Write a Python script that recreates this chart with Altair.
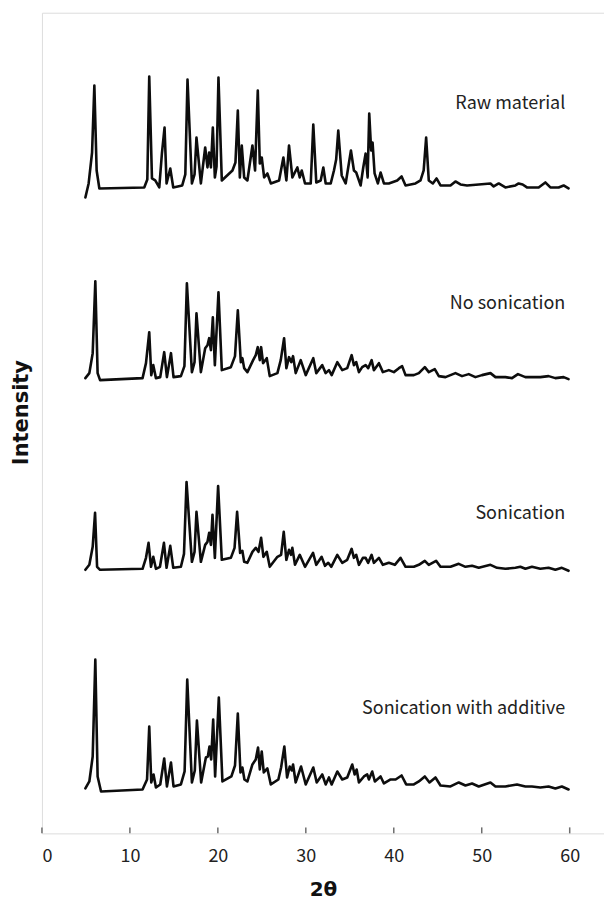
import altair as alt
import pandas as pd

series_names = ["Raw material", "No sonication", "Sonication", "Sonication with additive"]

raw_x = [4.94, 5.31, 5.70, 5.96, 6.22, 6.53, 11.63, 11.98, 12.20, 12.51, 12.88, 13.34, 13.64, 13.94, 14.17, 14.59,
         14.93, 15.95, 16.30, 16.55, 17.05, 17.35, 17.57, 18.07, 18.56, 18.82, 19.01, 19.21, 19.43, 19.66, 19.85,
         20.07, 20.45, 21.66, 22.00, 22.27, 22.50, 22.72, 22.99, 23.36, 23.93, 24.23, 24.54, 24.77, 24.99, 25.26,
         25.63, 26.02, 26.96, 27.45, 27.79, 28.09, 28.47, 29.04, 29.31, 29.54, 29.91, 30.56, 30.85, 31.19, 31.69,
         31.99, 32.26, 32.83, 33.20, 33.45, 33.69, 34.08, 34.53, 35.13, 35.47, 35.73, 36.23, 36.53, 36.80, 37.03,
         37.21, 37.43, 37.59, 37.82, 38.19, 38.50, 38.88, 39.44, 40.39, 40.89, 41.34, 42.47, 43.04, 43.40, 43.68,
         43.98, 44.44, 44.86, 45.31, 46.45, 47.01, 47.58, 48.33, 49.66, 50.99, 51.36, 51.93, 52.69, 53.83, 54.20,
         54.65, 55.14, 56.47, 57.23, 57.80, 58.74, 59.31, 59.87]
raw_y = [637, 651, 682, 749, 664, 646, 647, 655, 758, 656, 654, 647, 681, 707, 651, 666,
         647, 649, 660, 755, 651, 660, 697, 651, 687, 667, 682, 667, 707, 657, 668,
         757, 654, 664, 672, 724, 657, 689, 657, 654, 689, 664, 744, 671, 677, 657,
         661, 651, 654, 677, 654, 689, 657, 667, 657, 664, 651, 651, 710, 652, 654,
         667, 651, 651, 664, 675, 704, 659, 651, 684, 664, 662, 649, 667, 681, 657,
         721, 684, 692, 661, 651, 662, 651, 651, 654, 658, 649, 651, 654, 664, 697,
         654, 651, 656, 649, 649, 653, 650, 649, 650, 651, 648, 651, 647, 649, 651,
         650, 647, 647, 652, 647, 647, 649, 646]

nos_x = [4.94, 5.39, 5.77, 6.07, 6.33, 6.61, 11.44, 11.83, 12.20, 12.43, 12.66, 12.96, 13.45, 13.90, 14.21,
         14.67, 14.96, 15.80, 16.20, 16.48, 17.05, 17.35, 17.57, 18.07, 18.56, 18.82, 19.01, 19.21, 19.43,
         19.66, 20.07, 20.45, 21.48, 21.95, 22.27, 22.61, 22.79, 22.99, 23.36, 24.01, 24.31, 24.54, 24.77,
         24.92, 25.14, 25.56, 25.90, 26.77, 27.15, 27.53, 27.79, 28.09, 28.35, 28.55, 28.85, 29.42, 29.99,
         30.85, 31.19, 31.87, 32.26, 32.63, 32.94, 33.58, 34.14, 34.71, 35.21, 35.47, 35.73, 36.04, 36.41,
         36.80, 37.09, 37.48, 37.74, 38.31, 38.76, 39.44, 40.01, 40.58, 40.95, 41.34, 42.28, 42.85, 43.53,
         43.98, 44.66, 45.12, 45.88, 47.01, 47.76, 48.52, 49.28, 50.03, 50.99, 51.56, 52.69, 53.44, 54.12,
         54.96, 55.71, 56.66, 57.60, 58.37, 59.31, 59.87]
nos_y = [456, 461, 481, 553, 461, 454, 456, 471, 502, 459, 469, 456, 457, 482, 457,
         481, 457, 458, 468, 551, 462, 472, 521, 462, 486, 489, 496, 484, 517,
         469, 542, 464, 467, 478, 524, 472, 476, 466, 462, 474, 479, 487, 474,
         487, 471, 476, 458, 461, 474, 496, 466, 477, 472, 478, 461, 474, 459,
         476, 461, 469, 461, 464, 459, 472, 464, 466, 479, 469, 472, 462, 467,
         469, 466, 474, 464, 471, 462, 464, 462, 466, 468, 459, 459, 461, 467,
         462, 465, 458, 457, 461, 458, 460, 457, 459, 461, 457, 457, 456, 460,
         457, 457, 457, 458, 456, 457, 455]

son_x = [4.94, 5.39, 5.77, 6.04, 6.27, 6.61, 11.44, 11.83, 12.12, 12.40, 12.66, 12.96, 13.42, 13.87, 14.17,
         14.59, 14.93, 15.80, 16.15, 16.44, 17.05, 17.35, 17.57, 18.07, 18.56, 18.82, 19.01, 19.21, 19.39,
         19.66, 20.03, 20.45, 21.48, 21.90, 22.19, 22.53, 22.79, 22.99, 23.36, 23.93, 24.31, 24.62, 24.92,
         25.18, 25.56, 25.90, 26.77, 27.19, 27.49, 27.79, 28.09, 28.32, 28.47, 28.77, 29.31, 29.91, 30.82,
         31.19, 31.80, 32.18, 32.55, 32.89, 33.58, 34.14, 34.71, 35.21, 35.47, 35.73, 36.04, 36.49, 36.80,
         37.09, 37.48, 37.74, 38.31, 38.76, 39.44, 40.12, 40.77, 41.34, 42.28, 42.85, 43.53, 43.98, 44.81,
         45.31, 46.45, 47.39, 48.15, 48.90, 49.66, 50.99, 51.74, 52.69, 53.83, 54.39, 54.96, 55.71, 56.66,
         57.60, 58.37, 59.11, 59.87]
son_y = [264, 269, 287, 321, 267, 264, 265, 276, 291, 267, 277, 265, 267, 291, 266,
         288, 266, 267, 280, 352, 272, 282, 322, 272, 289, 292, 301, 289, 319,
         276, 348, 274, 276, 286, 322, 281, 283, 272, 271, 282, 286, 282, 296,
         277, 282, 267, 277, 279, 302, 274, 284, 279, 286, 269, 279, 267, 281,
         269, 277, 268, 271, 267, 279, 271, 274, 285, 276, 279, 269, 276, 276,
         271, 279, 271, 276, 269, 271, 269, 276, 267, 267, 269, 273, 269, 273,
         267, 267, 270, 267, 268, 266, 269, 266, 265, 266, 267, 265, 267, 265,
         266, 264, 266, 263]

add_x = [4.94, 5.39, 5.77, 6.07, 6.33, 6.72, 11.44, 11.95, 12.20, 12.43, 12.69, 12.96, 13.45, 13.90, 14.21,
         14.67, 14.96, 15.80, 16.22, 16.52, 17.05, 17.38, 17.62, 18.10, 18.64, 18.86, 19.05, 19.24, 19.47,
         19.69, 20.11, 20.52, 21.54, 21.95, 22.27, 22.57, 22.79, 23.02, 23.36, 23.93, 24.31, 24.57, 24.77,
         24.99, 25.22, 25.63, 26.02, 26.88, 27.19, 27.56, 27.87, 28.17, 28.40, 28.55, 28.85, 29.46, 29.99,
         30.85, 31.24, 31.87, 32.26, 32.63, 32.94, 33.58, 34.14, 34.71, 35.28, 35.55, 35.78, 36.04, 36.61,
         36.98, 37.17, 37.55, 37.85, 38.50, 38.88, 39.64, 40.21, 40.89, 41.41, 42.28, 42.85, 43.53, 44.06,
         44.74, 45.31, 46.45, 47.39, 48.15, 48.90, 49.66, 50.99, 51.56, 52.69, 54.01, 54.96, 55.71, 56.66,
         57.60, 58.37, 59.11, 59.87]
add_y = [45, 52, 77, 174, 57, 42, 44, 54, 107, 51, 59, 46, 49, 75, 47,
         71, 47, 49, 62, 154, 51, 63, 113, 51, 76, 77, 87, 74, 114,
         57, 136, 52, 57, 68, 120, 61, 66, 54, 52, 69, 74, 86, 64,
         82, 61, 65, 49, 54, 66, 87, 56, 67, 63, 69, 51, 67, 49,
         66, 51, 59, 49, 56, 49, 62, 54, 56, 69, 59, 64, 51, 57,
         59, 54, 62, 52, 57, 50, 54, 54, 58, 49, 49, 52, 57, 51,
         56, 48, 47, 51, 48, 50, 47, 51, 47, 47, 49, 47, 47, 46,
         47, 45, 47, 44]

label_y = [731, 530, 320, 125]
x_ticks = [0, 10, 20, 30, 40, 50, 60]

rows = []
for name, xs, ys in zip(series_names, [raw_x, nos_x, son_x, add_x], [raw_y, nos_y, son_y, add_y]):
    for xv, yv in zip(xs, ys):
        rows.append({"series": name, "two_theta": xv, "intensity": yv})
df = pd.DataFrame(rows)

labels_df = pd.DataFrame({"series": series_names, "y": label_y, "x": [59.5] * 4})
ticks_df = pd.DataFrame({"t": x_ticks})

FONT = "Noto Sans CJK KR"
TFONT = "DejaVu Sans"
W, H = 563, 822

x_scale = alt.Scale(domain=[0, 63.9], nice=False, zero=False)
y_scale = alt.Scale(domain=[0, 822], nice=False, zero=False)

lines = alt.Chart(df).mark_line(color="#0d0d0d", strokeWidth=2.6, strokeJoin="round", strokeCap="round").encode(
    x=alt.X("two_theta:Q", scale=x_scale,
            axis=alt.Axis(values=x_ticks, title="2θ", grid=False, ticks=False, domain=False,
                          labelFont=FONT, labelFontSize=18, labelColor="#222222", labelPadding=14,
                          titleFont=TFONT, titleFontSize=20, titleFontWeight="bold", titleColor="#111111",
                          titlePadding=14)),
    y=alt.Y("intensity:Q", scale=y_scale,
            axis=alt.Axis(title="Intensity", labels=False, ticks=False, domain=False, grid=False,
                          titleFont=TFONT, titleFontSize=21, titleFontWeight="bold", titleColor="#111111",
                          titlePadding=10, titleY=400)),
    detail="series:N",
    order="two_theta:Q",
)

texts = alt.Chart(labels_df).mark_text(align="right", baseline="middle", font=FONT, fontSize=18,
                                        color="#222222").encode(
    x=alt.X("x:Q", scale=x_scale),
    y=alt.Y("y:Q", scale=y_scale),
    text="series:N",
)

tick_marks = alt.Chart(ticks_df).mark_rule(color="#6e6e6e", strokeWidth=1.5).encode(
    x=alt.X("t:Q", scale=x_scale),
    y=alt.value(H),
    y2=alt.value(H - 6),
)

chart = alt.layer(lines, tick_marks, texts).properties(
    width=W, height=H,
    autosize=alt.AutoSizeParams(type="none"),
    padding={"left": 42, "top": 12, "right": 0, "bottom": 73},
).configure_view(stroke="#6e6e6e", strokeWidth=1.5).configure(background="white")

chart.save("out.html", embed_options={"renderer": "svg", "actions": False})
